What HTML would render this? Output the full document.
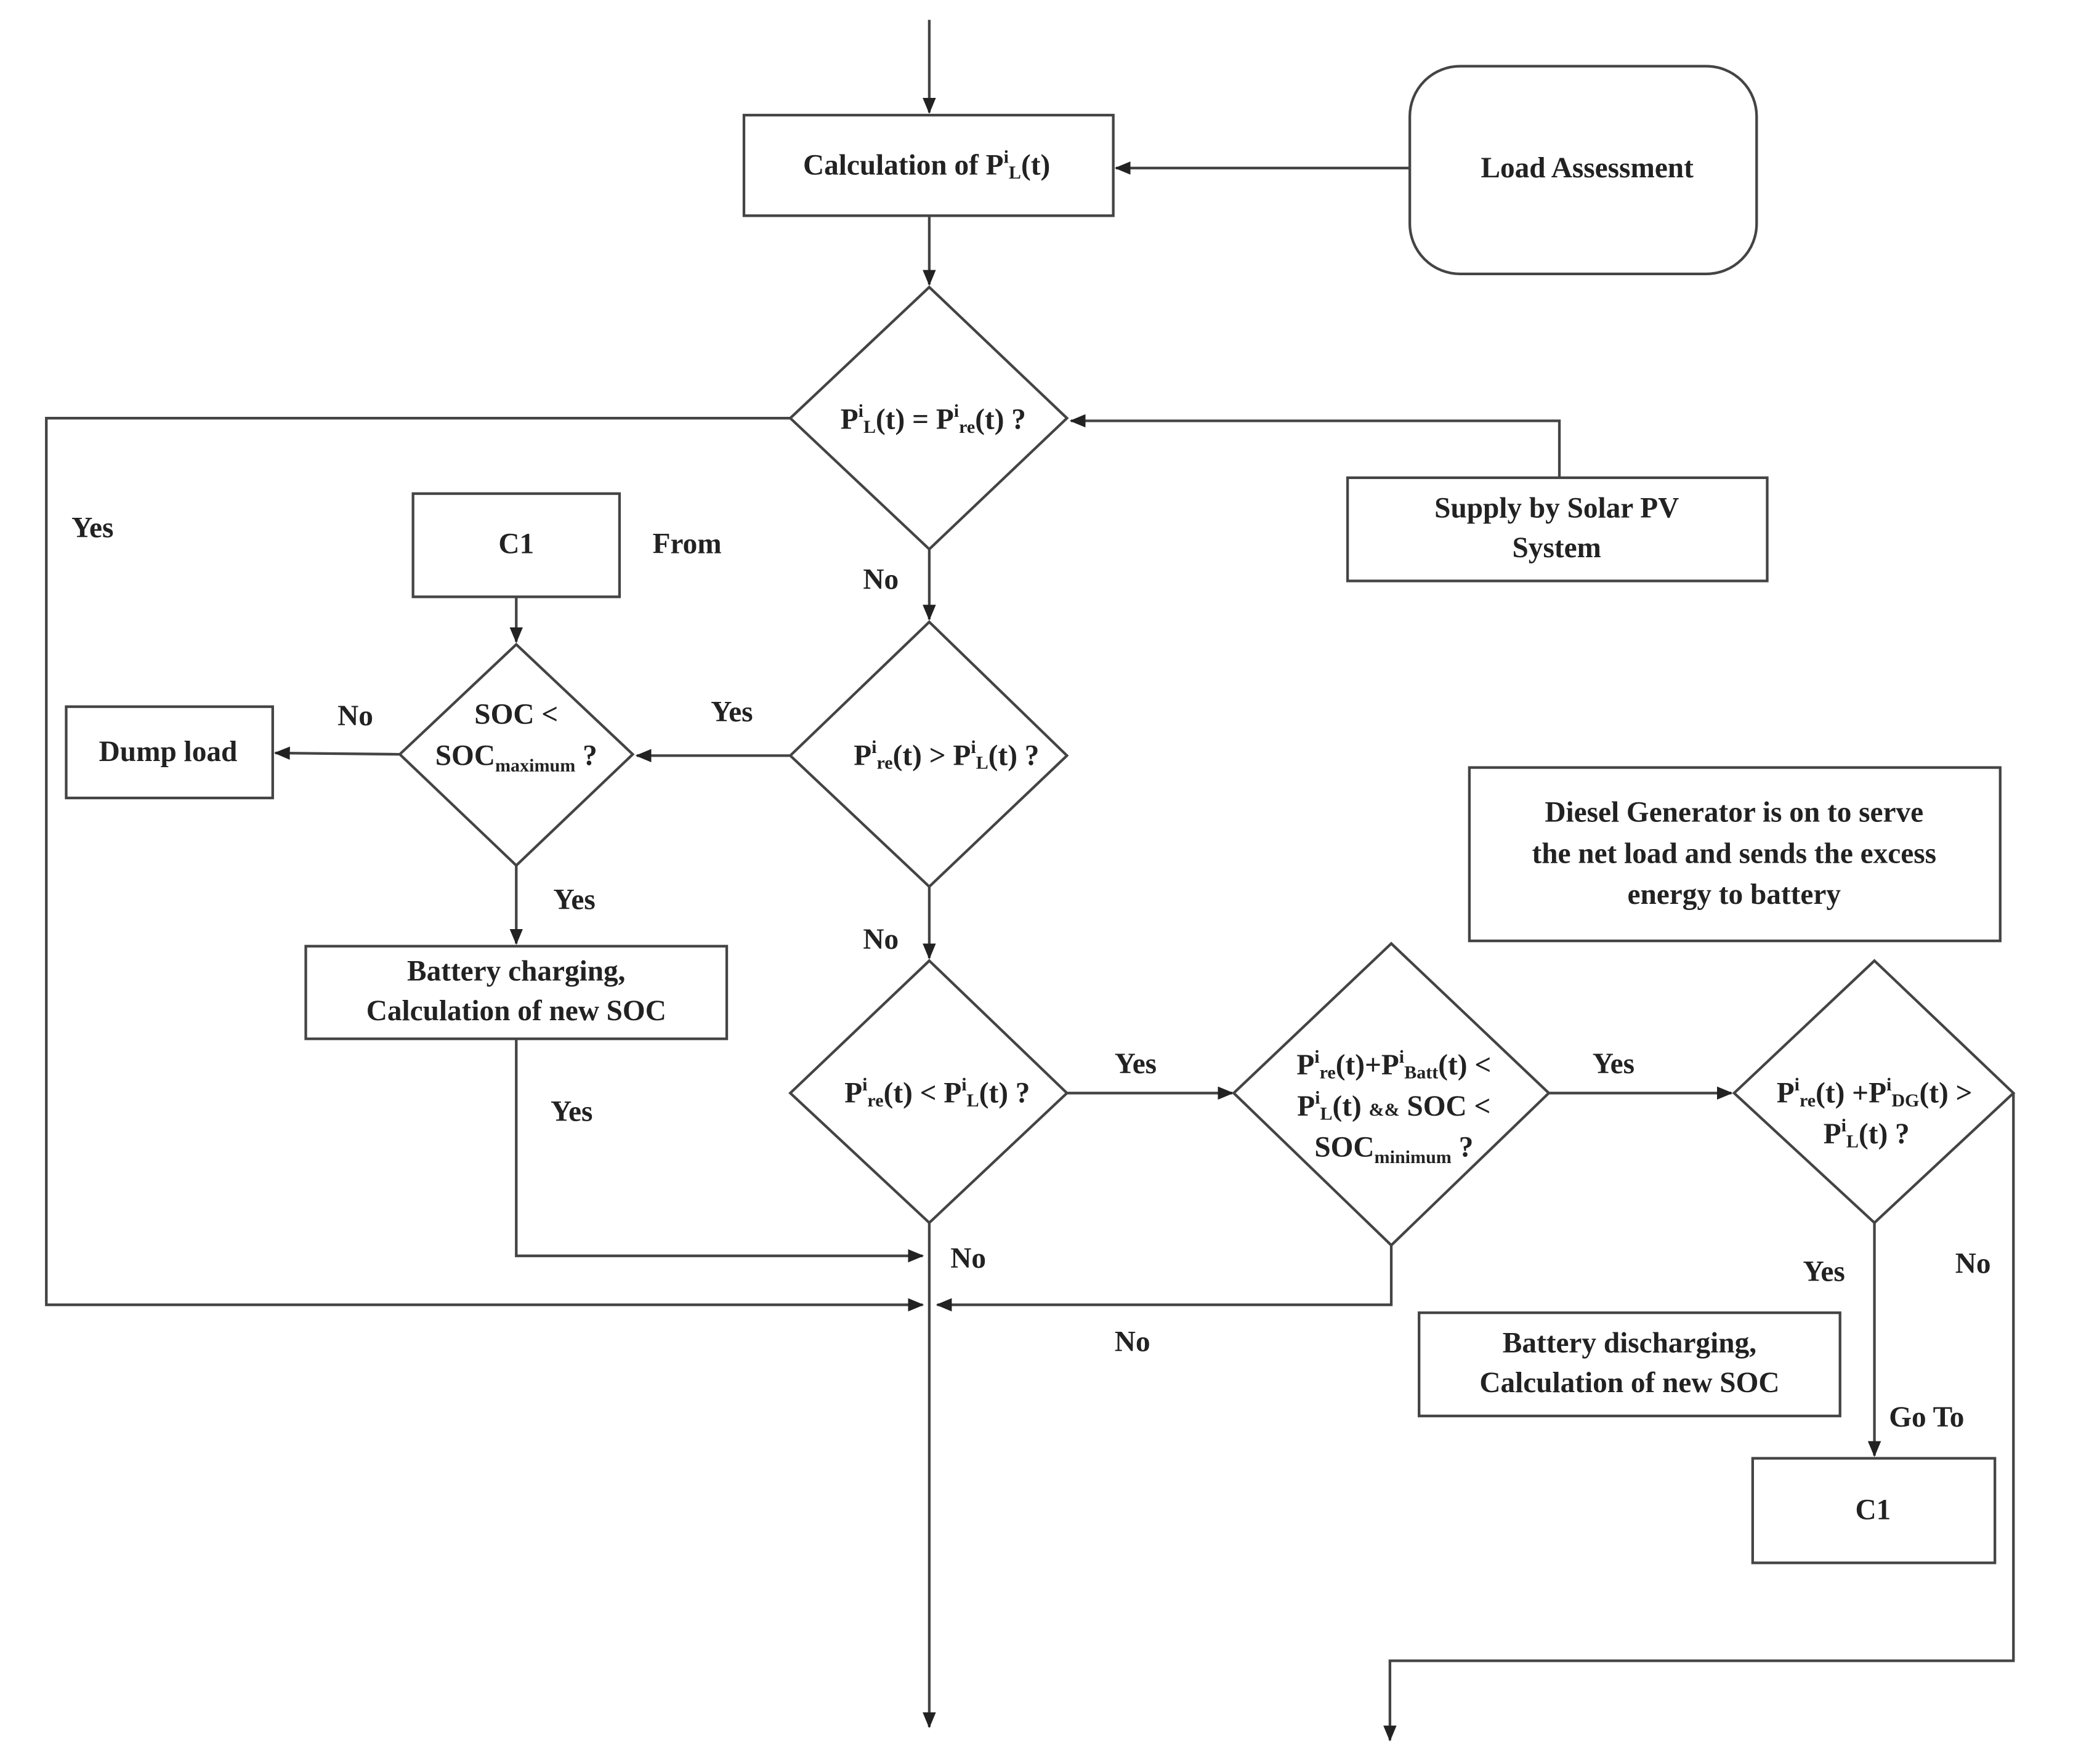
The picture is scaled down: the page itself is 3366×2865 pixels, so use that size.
<!DOCTYPE html>
<html><head><meta charset="utf-8"><style>
html,body{margin:0;padding:0;background:#fff;}
svg{display:block}
text{font-family:"Liberation Serif",serif;font-weight:bold;font-size:22px;fill:#222;}
.s{font-size:14px}
</style></head><body>
<svg width="3366" height="2865" viewBox="0 0 1566 1333" preserveAspectRatio="none" xmlns="http://www.w3.org/2000/svg">
<defs><marker id="a" markerWidth="12" markerHeight="10" refX="11" refY="5" orient="auto" markerUnits="userSpaceOnUse"><path d="M0,0 L12,5 L0,10 z" fill="#222"/></marker></defs>
<g stroke="#444" stroke-width="2" fill="none">
<line x1="702" y1="15" x2="702" y2="85" marker-end="url(#a)"/>
<rect x="562" y="87" width="279" height="76" fill="#fff"/>
<rect x="1065" y="50" width="262" height="157" rx="38" fill="#fff"/>
<line x1="1065" y1="127" x2="843" y2="127" marker-end="url(#a)"/>
<line x1="702" y1="163" x2="702" y2="215" marker-end="url(#a)"/>
<polygon points="702,217 806,316 702,415 597,316"/>
<polyline points="597,316 35,316 35,986 697,986" marker-end="url(#a)"/>
<rect x="1018" y="361" width="317" height="78"/>
<polyline points="1178,361 1178,318 809,318" marker-end="url(#a)"/>
<line x1="702" y1="415" x2="702" y2="468" marker-end="url(#a)"/>
<polygon points="702,470 806,571 702,670 597,571"/>
<line x1="597" y1="571" x2="481" y2="571" marker-end="url(#a)"/>
<polygon points="390,487 478,570 390,654 302,570"/>
<rect x="312" y="373" width="156" height="78"/>
<line x1="390" y1="451" x2="390" y2="485" marker-end="url(#a)"/>
<line x1="302" y1="570" x2="208" y2="569" marker-end="url(#a)"/>
<rect x="50" y="534" width="156" height="69"/>
<line x1="390" y1="654" x2="390" y2="713" marker-end="url(#a)"/>
<rect x="231" y="715" width="318" height="70"/>
<polyline points="390,785 390,949 697,949" marker-end="url(#a)"/>
<line x1="702" y1="670" x2="702" y2="724" marker-end="url(#a)"/>
<polygon points="702,726 806,826 702,924 597,826"/>
<line x1="806" y1="826" x2="931" y2="826" marker-end="url(#a)"/>
<polygon points="1051,713 1170,826 1051,941 932,826"/>
<line x1="1170" y1="826" x2="1308" y2="826" marker-end="url(#a)"/>
<polygon points="1416,726 1521,826 1416,924 1310,826"/>
<rect x="1110" y="580" width="401" height="131"/>
<polyline points="1051,941 1051,986 708,986" marker-end="url(#a)"/>
<line x1="702" y1="924" x2="702" y2="1305" marker-end="url(#a)"/>
<line x1="1416" y1="924" x2="1416" y2="1100" marker-end="url(#a)"/>
<rect x="1324" y="1102" width="183" height="79"/>
<rect x="1072" y="992" width="318" height="78"/>
<polyline points="1521,826 1521,1255 1050,1255 1050,1315" marker-end="url(#a)"/>
</g>
<g text-anchor="middle">
<text x="700" y="132">Calculation of P<tspan class="s" dy="-9">i</tspan><tspan class="s" dy="12">L</tspan><tspan dy="-3">(t)</tspan></text>
<text x="1199" y="134">Load Assessment</text>
<text x="705" y="324">P<tspan class="s" dy="-9">i</tspan><tspan class="s" dy="12">L</tspan><tspan dy="-3">(t) = P</tspan><tspan class="s" dy="-9">i</tspan><tspan class="s" dy="12">re</tspan><tspan dy="-3">(t)  ?</tspan></text>
<text x="1176" y="391">Supply by Solar PV</text>
<text x="1176" y="421">System</text>
<text x="390" y="418">C1</text>
<text x="715" y="578">P<tspan class="s" dy="-9">i</tspan><tspan class="s" dy="12">re</tspan><tspan dy="-3">(t) &gt; P</tspan><tspan class="s" dy="-9">i</tspan><tspan class="s" dy="12">L</tspan><tspan dy="-3">(t)  ?</tspan></text>
<text x="390" y="547">SOC &lt;</text>
<text x="390" y="578">SOC<tspan class="s" dy="5">maximum</tspan><tspan dy="-5"> ?</tspan></text>
<text x="127" y="575">Dump load</text>
<text x="390" y="741">Battery charging,</text>
<text x="390" y="771">Calculation of new SOC</text>
<text x="708" y="833">P<tspan class="s" dy="-9">i</tspan><tspan class="s" dy="12">re</tspan><tspan dy="-3">(t) &lt; P</tspan><tspan class="s" dy="-9">i</tspan><tspan class="s" dy="12">L</tspan><tspan dy="-3">(t)  ?</tspan></text>
<text x="1053" y="812">P<tspan class="s" dy="-9">i</tspan><tspan class="s" dy="12">re</tspan><tspan dy="-3">(t)+P</tspan><tspan class="s" dy="-9">i</tspan><tspan class="s" dy="12">Batt</tspan><tspan dy="-3">(t) &lt;</tspan></text>
<text x="1053" y="843">P<tspan class="s" dy="-9">i</tspan><tspan class="s" dy="12">L</tspan><tspan dy="-3">(t)  </tspan><tspan class="s">&amp;&amp;</tspan><tspan> SOC &lt;</tspan></text>
<text x="1053" y="874">SOC<tspan class="s" dy="5">minimum</tspan><tspan dy="-5"> ?</tspan></text>
<text x="1416" y="833">P<tspan class="s" dy="-9">i</tspan><tspan class="s" dy="12">re</tspan><tspan dy="-3">(t) +P</tspan><tspan class="s" dy="-9">i</tspan><tspan class="s" dy="12">DG</tspan><tspan dy="-3">(t) &gt;</tspan></text>
<text x="1410" y="864">P<tspan class="s" dy="-9">i</tspan><tspan class="s" dy="12">L</tspan><tspan dy="-3">(t)  ?</tspan></text>
<text x="1310" y="621">Diesel Generator is on to serve</text>
<text x="1310" y="652">the net load and sends the excess</text>
<text x="1310" y="683">energy to battery</text>
<text x="1231" y="1022">Battery discharging,</text>
<text x="1231" y="1052">Calculation of new SOC</text>
<text x="1415" y="1148">C1</text>
</g>
<g>
<text x="54" y="406">Yes</text>
<text x="493" y="418">From</text>
<text x="652" y="445">No</text>
<text x="537" y="545">Yes</text>
<text x="255" y="548">No</text>
<text x="418" y="687">Yes</text>
<text x="652" y="717">No</text>
<text x="416" y="847">Yes</text>
<text x="842" y="811">Yes</text>
<text x="1203" y="811">Yes</text>
<text x="718" y="958">No</text>
<text x="842" y="1021">No</text>
<text x="1362" y="968">Yes</text>
<text x="1477" y="962">No</text>
<text x="1427" y="1078">Go To</text>
</g>
</svg>
</body></html>
